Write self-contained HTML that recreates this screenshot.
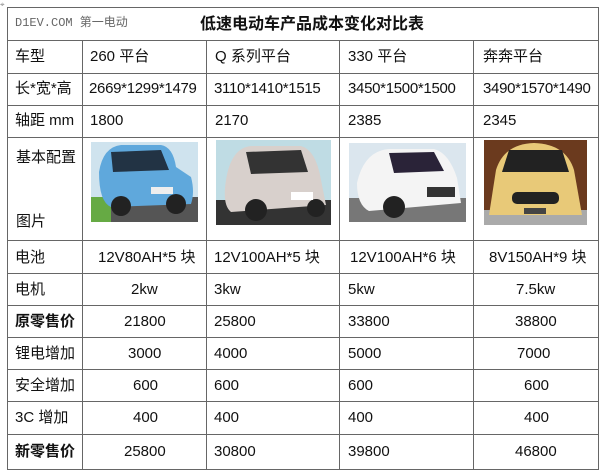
<!DOCTYPE html>
<html><head><meta charset="utf-8"><style>
body{margin:0;width:600px;height:476px;background:#fff;position:relative;overflow:hidden;font-family:"Liberation Sans","Noto Sans CJK SC",sans-serif;color:#111}
.h{position:absolute;height:1px;background:#666;left:7px;width:591px}
.v{position:absolute;width:1px;background:#666}
.t{position:absolute;font-size:15px;line-height:18px;white-space:nowrap;transform:translateY(-50%)}
.b{font-weight:bold}
.d{letter-spacing:-0.3px}
</style></head><body>
<div style="position:absolute;left:0;top:0;font-size:8px;color:#888">⌖</div>
<div class="h" style="top:7px"></div>
<div class="h" style="top:40px"></div>
<div class="h" style="top:73px"></div>
<div class="h" style="top:105px"></div>
<div class="h" style="top:137px"></div>
<div class="h" style="top:240px"></div>
<div class="h" style="top:273px"></div>
<div class="h" style="top:305px"></div>
<div class="h" style="top:337px"></div>
<div class="h" style="top:369px"></div>
<div class="h" style="top:401px"></div>
<div class="h" style="top:434px"></div>
<div class="h" style="top:469px"></div>
<div class="v" style="left:7px;top:7px;height:463px"></div>
<div class="v" style="left:598px;top:7px;height:463px"></div>
<div class="v" style="left:82px;top:40px;height:430px"></div>
<div class="v" style="left:206px;top:40px;height:430px"></div>
<div class="v" style="left:339px;top:40px;height:430px"></div>
<div class="v" style="left:473px;top:40px;height:430px"></div>

<div class="t" style="left:15px;top:23px;font-family:'Liberation Mono','Noto Sans CJK SC',monospace;font-size:12px;color:#666">D1EV.COM 第一电动</div>
<div class="t b" style="left:200px;top:25px;font-size:16px">低速电动车产品成本变化对比表</div>

<div class="t" style="left:15px;top:57px">车型</div><div class="t" style="left:90px;top:57px">260 平台</div><div class="t" style="left:215px;top:57px">Q 系列平台</div><div class="t" style="left:348px;top:57px">330 平台</div><div class="t" style="left:483px;top:57px">奔奔平台</div>
<div class="t" style="left:15px;top:89px">长*宽*高</div><div class="t d" style="left:89px;top:89px">2669*1299*1479</div><div class="t d" style="left:214px;top:89px">3110*1410*1515</div><div class="t d" style="left:348px;top:89px">3450*1500*1500</div><div class="t d" style="left:483px;top:89px">3490*1570*1490</div>
<div class="t" style="left:15px;top:121px">轴距 mm</div><div class="t" style="left:90px;top:121px">1800</div><div class="t" style="left:215px;top:121px">2170</div><div class="t" style="left:348px;top:121px">2385</div><div class="t" style="left:483px;top:121px">2345</div>
<div class="t" style="left:16px;top:158px">基本配置</div><div class="t" style="left:16px;top:222px">图片</div>

<svg style="position:absolute;left:91px;top:142px" width="107" height="80" viewBox="0 0 107 80">
<rect width="107" height="80" fill="#cfe3ee"/><rect y="55" width="107" height="25" fill="#555"/><rect y="55" width="20" height="25" fill="#6a4"/>
<path d="M8 30 Q12 5 30 3 L70 3 Q82 5 85 25 L100 35 Q104 50 100 62 L20 65 Q8 60 8 30Z" fill="#5fa8dc"/>
<path d="M20 10 L70 8 L78 28 L22 30Z" fill="#234"/>
<circle cx="30" cy="64" r="10" fill="#222"/><circle cx="85" cy="62" r="10" fill="#222"/><rect x="60" y="45" width="22" height="7" fill="#eee"/>
</svg>
<svg style="position:absolute;left:216px;top:140px" width="115" height="85" viewBox="0 0 115 85">
<rect width="115" height="85" fill="#bfdce4"/><rect y="60" width="115" height="25" fill="#333"/>
<path d="M10 40 Q15 8 35 6 L85 6 Q100 10 105 40 L110 65 L15 72 Q6 65 10 40Z" fill="#d8d0cc"/>
<path d="M30 12 L85 10 L92 32 L35 34Z" fill="#333"/>
<circle cx="40" cy="70" r="11" fill="#222"/><circle cx="100" cy="68" r="9" fill="#222"/><rect x="75" y="52" width="22" height="8" fill="#fff"/>
</svg>
<svg style="position:absolute;left:349px;top:143px" width="117" height="79" viewBox="0 0 117 79">
<rect width="117" height="79" fill="#dbe6ee"/><rect y="55" width="117" height="24" fill="#777"/>
<path d="M8 40 Q15 8 40 6 L85 6 Q100 10 108 35 L112 60 L20 68 Q8 62 8 40Z" fill="#f4f4f4"/>
<path d="M40 10 L85 9 L95 28 L45 30Z" fill="#2a2338"/>
<circle cx="45" cy="64" r="11" fill="#222"/><rect x="78" y="44" width="28" height="10" fill="#333"/>
</svg>
<svg style="position:absolute;left:484px;top:140px" width="103" height="85" viewBox="0 0 103 85">
<rect width="103" height="85" fill="#6b3a1e"/><rect y="70" width="103" height="15" fill="#aaa"/>
<path d="M12 30 Q20 4 50 3 Q82 4 90 30 L98 75 L5 75Z" fill="#e8c978"/>
<path d="M25 10 L78 10 L85 32 L18 32Z" fill="#222"/>
<rect x="28" y="52" width="47" height="12" rx="5" fill="#222"/><rect x="40" y="68" width="22" height="6" fill="#444"/>
</svg>

<div class="t" style="left:15px;top:258px">电池</div><div class="t" style="left:98px;top:258px">12V80AH*5 块</div><div class="t" style="left:214px;top:258px">12V100AH*5 块</div><div class="t" style="left:350px;top:258px">12V100AH*6 块</div><div class="t" style="left:489px;top:258px">8V150AH*9 块</div>
<div class="t" style="left:15px;top:290px">电机</div><div class="t" style="left:131px;top:290px">2kw</div><div class="t" style="left:214px;top:290px">3kw</div><div class="t" style="left:348px;top:290px">5kw</div><div class="t" style="left:516px;top:290px">7.5kw</div>
<div class="t b" style="left:15px;top:322px">原零售价</div><div class="t" style="left:124px;top:322px">21800</div><div class="t" style="left:214px;top:322px">25800</div><div class="t" style="left:348px;top:322px">33800</div><div class="t" style="left:515px;top:322px">38800</div>
<div class="t" style="left:15px;top:354px">锂电增加</div><div class="t" style="left:128px;top:354px">3000</div><div class="t" style="left:214px;top:354px">4000</div><div class="t" style="left:348px;top:354px">5000</div><div class="t" style="left:517px;top:354px">7000</div>
<div class="t" style="left:15px;top:386px">安全增加</div><div class="t" style="left:133px;top:386px">600</div><div class="t" style="left:214px;top:386px">600</div><div class="t" style="left:348px;top:386px">600</div><div class="t" style="left:524px;top:386px">600</div>
<div class="t" style="left:15px;top:418px">3C 增加</div><div class="t" style="left:133px;top:418px">400</div><div class="t" style="left:214px;top:418px">400</div><div class="t" style="left:348px;top:418px">400</div><div class="t" style="left:524px;top:418px">400</div>
<div class="t b" style="left:15px;top:452px">新零售价</div><div class="t" style="left:124px;top:452px">25800</div><div class="t" style="left:214px;top:452px">30800</div><div class="t" style="left:348px;top:452px">39800</div><div class="t" style="left:515px;top:452px">46800</div>
</body></html>
